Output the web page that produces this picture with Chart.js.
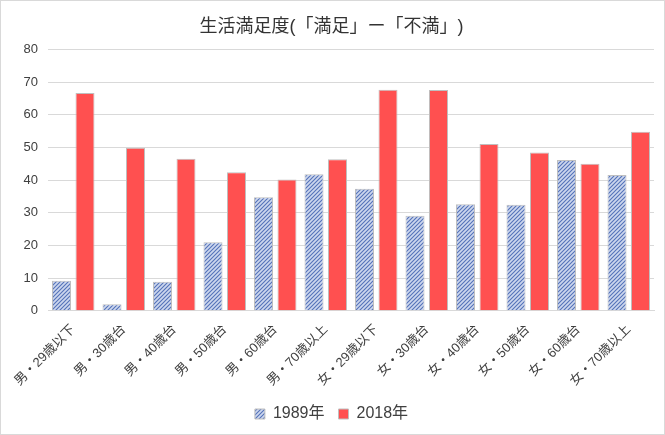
<!DOCTYPE html>
<html>
<head>
<meta charset="utf-8">
<script src="https://cdn.jsdelivr.net/npm/chart.js@4.4.1/dist/chart.umd.min.js"></script>
<style>
  html, body { margin: 0; padding: 0; background: #fff; }
  #wrap { width: 663px; height: 433px; border: 1px solid #d9d9d9; }
</style>
</head>
<body>
<div id="wrap"><canvas id="chart" width="663" height="433"></canvas></div>
<script>
const categories = [
    "男・29歳以下", "男・30歳台", "男・40歳台", "男・50歳台", "男・60歳台", "男・70歳以上",
    "女・29歳以下", "女・30歳台", "女・40歳台", "女・50歳台", "女・60歳台", "女・70歳以上"
];
const values1989 = [9.2, 2.0, 8.9, 21.0, 34.8, 41.8, 37.4, 29.1, 32.6, 32.5, 46.2, 41.6];
const values2018 = [66.7, 49.9, 46.6, 42.4, 40.2, 46.4, 67.7, 67.6, 51.1, 48.5, 45.0, 54.8];
const yTicks = [0, 10, 20, 30, 40, 50, 60, 70, 80];

const jpFont = "'Liberation Sans', 'Noto Sans CJK JP', sans-serif";

// hatch fill for the 1989 series
function makeHatch() {
    const c = document.createElement("canvas");
    c.width = 4;
    c.height = 4;
    const x = c.getContext("2d");
    x.fillStyle = "#cdd7ee";
    x.fillRect(0, 0, 4, 4);
    x.strokeStyle = "#5472b8";
    x.lineWidth = 1.1;
    x.beginPath();
    x.moveTo(-1, 5); x.lineTo(5, -1);
    x.moveTo(-1, 1); x.lineTo(1, -1);
    x.moveTo(3, 5); x.lineTo(5, 3);
    x.stroke();
    return x.createPattern(c, "repeat");
}
const hatch = makeHatch();

const chart = new Chart("chart", {
    type: "bar",
    data: {
        labels: categories,
        datasets: [
            {
                label: "1989年",
                data: values1989,
                backgroundColor: hatch,
                borderColor: "#bfbfbf",
                borderWidth: 1,
                categoryPercentage: 0.93,
                barPercentage: 0.81,
            },
            {
                label: "2018年",
                data: values2018,
                backgroundColor: "#ff5050",
                borderColor: "#bfbfbf",
                borderWidth: 1,
                categoryPercentage: 0.93,
                barPercentage: 0.81,
            },
        ]
    },
    options: {
        responsive: false,
        animation: false,
        layout: {
            padding: { left: 8, right: 10, top: 4, bottom: 2 }
        },
        plugins: {
            title: {
                display: true,
                text: "生活満足度(「満足」ー「不満」)",
                color: "#333333",
                font: { family: jpFont, size: 18, weight: "normal" },
                padding: { top: 11, bottom: 12 }
            },
            legend: {
                position: "bottom",
                labels: {
                    color: "#404040",
                    font: { family: jpFont, size: 16 },
                    boxWidth: 10,
                    boxHeight: 10,
                    padding: 14
                }
            },
            tooltip: { enabled: false }
        },
        scales: {
            x: {
                grid: { display: false },
                border: { color: "#d9d9d9" },
                ticks: {
                    color: "#404040",
                    font: { family: jpFont, size: 13 },
                    minRotation: 45,
                    maxRotation: 45,
                    autoSkip: false
                }
            },
            y: {
                min: 0,
                max: 80,
                afterBuildTicks: (s) => { s.ticks = yTicks.map(v => ({ value: v })); },
                afterFit: (s) => { s.width = 39; },
                grid: { color: "#d9d9d9", drawTicks: false },
                border: { display: false },
                ticks: {
                    color: "#404040",
                    font: { family: jpFont, size: 13 },
                    padding: 10
                }
            }
        }
    }
});
</script>
</body>
</html>
